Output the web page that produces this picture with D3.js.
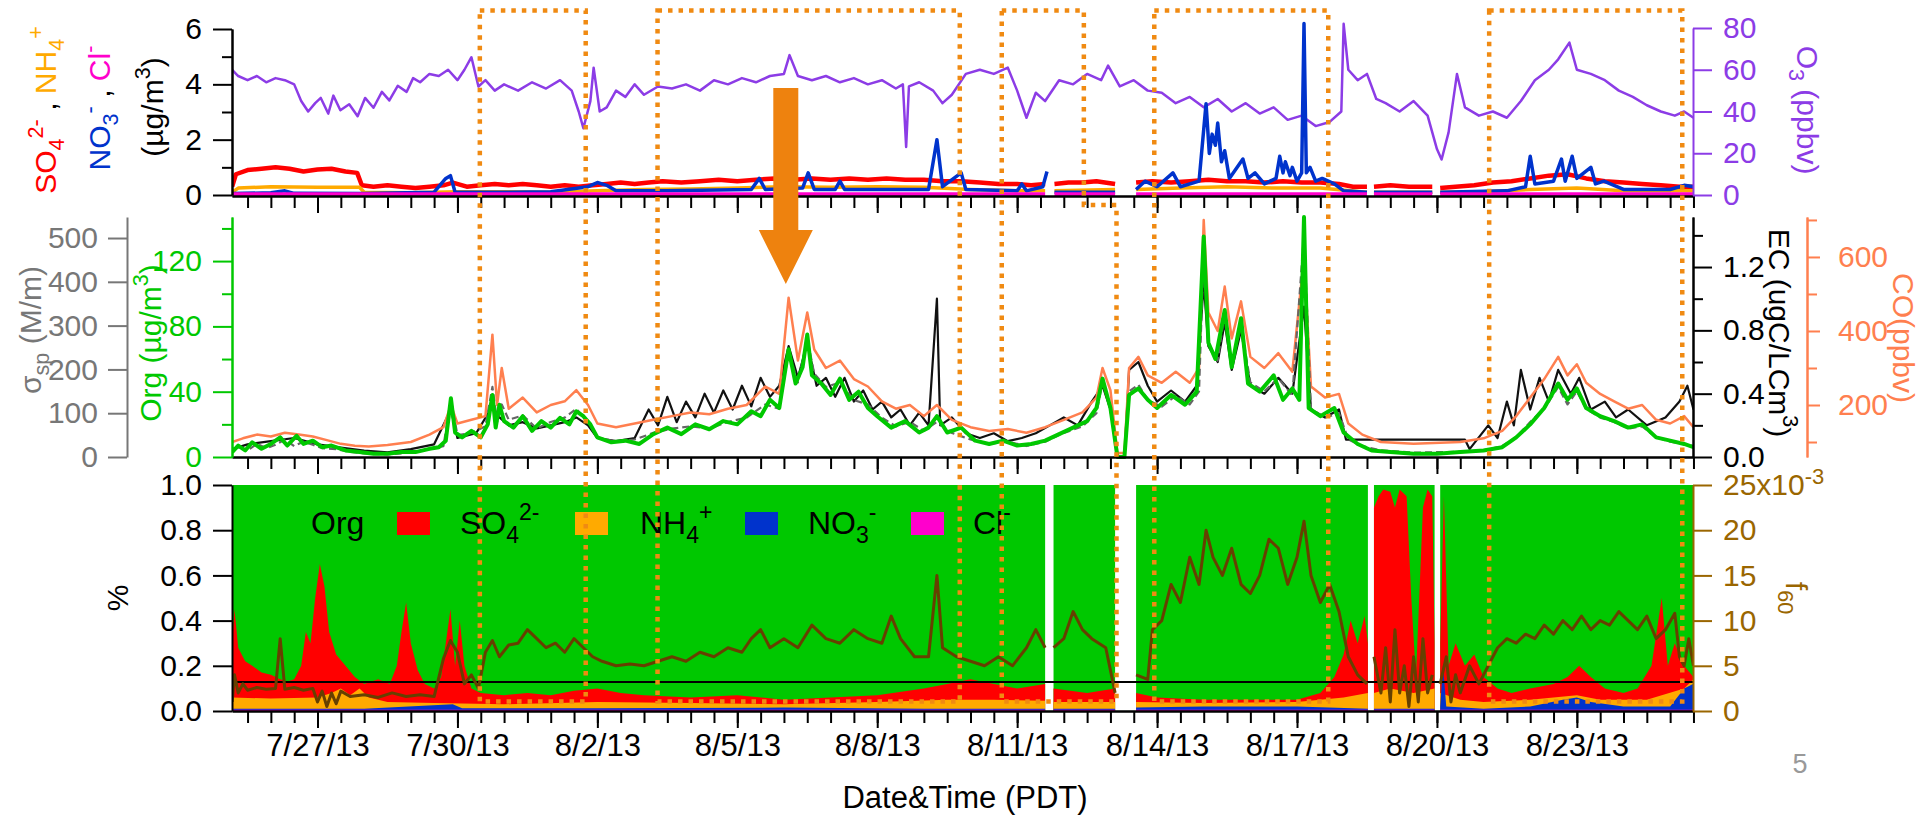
<!DOCTYPE html>
<html><head><meta charset="utf-8">
<script src="https://cdn.jsdelivr.net/npm/d3@7"></script>
<style>
html,body{margin:0;padding:0;background:#fff;}
text{font-family:"Liberation Sans",Arial,Helvetica,sans-serif;}
</style></head>
<body>
<svg id="chart" width="1921" height="817"></svg>
<script>
// ---------- DATA (time = days since 2013-07-25 00:00 PDT) ----------
const tickLabels = ["7/27/13","7/30/13","8/2/13","8/5/13","8/8/13","8/11/13","8/14/13","8/17/13","8/20/13","8/23/13"];

const o3 = [[0.17,60],[0.3,57],[0.5,55],[0.7,57],[0.9,54],[1.1,56],[1.3,55],[1.5,53],[1.65,45],[1.8,40],[1.95,44],[2.07,46.5],[2.23,39],[2.34,47.6],[2.49,40.6],[2.68,43.5],[2.86,37.7],[3.02,46.5],[3.2,41.8],[3.38,49.4],[3.54,45.3],[3.72,52.3],[3.91,49.4],[4.05,56],[4.2,54],[4.4,58],[4.6,57],[4.8,60],[5.0,55],[5.15,60],[5.3,66],[5.45,52],[5.6,55],[5.8,50],[6.0,53],[6.3,50],[6.6,54],[6.9,51],[7.2,55],[7.45,50],[7.6,40],[7.7,32],[7.85,45],[7.92,61],[8.05,40],[8.2,42],[8.4,50],[8.6,47],[8.8,53],[9.0,48],[9.3,52],[9.6,51],[9.9,53],[10.2,50],[10.5,55],[10.8,53],[11.1,56],[11.4,54],[11.7,57],[12.0,58],[12.12,67],[12.3,57],[12.6,55],[12.9,57],[13.2,54],[13.5,56],[13.8,53],[14.1,55],[14.4,51],[14.55,53],[14.62,23],[14.68,52],[14.9,54],[15.2,50],[15.4,44],[15.6,48],[15.9,58],[16.2,60],[16.5,58],[16.8,61],[17.0,50],[17.2,37],[17.4,49],[17.6,45],[17.9,55],[18.2,53],[18.5,58],[18.8,55],[18.95,62],[19.2,52],[19.5,55],[19.8,50],[20.1,49],[20.4,44],[20.7,47],[21.0,42],[21.3,46],[21.6,40],[21.9,44],[22.2,39],[22.5,42],[22.8,36],[23.1,38],[23.4,33],[23.7,35],[23.95,40],[24.0,82],[24.1,60],[24.3,55],[24.5,58],[24.7,46],[24.9,44],[25.2,40],[25.5,45],[25.8,38],[26.0,22],[26.1,17],[26.25,30],[26.43,58],[26.6,42],[26.9,38],[27.2,40],[27.5,37],[27.8,45],[28.1,55],[28.4,60],[28.6,65],[28.84,73],[29.0,60],[29.3,58],[29.6,55],[29.9,50],[30.2,47],[30.5,43],[30.8,40],[31.1,38],[31.3,40],[31.5,37]];

const so4 = [[0.17,0.3],[0.25,0.75],[0.5,0.9],[0.8,0.95],[1.1,1.0],[1.4,0.95],[1.7,0.85],[2.0,0.92],[2.3,0.95],[2.6,0.85],[2.85,0.8],[2.95,0.35],[3.2,0.3],[3.5,0.35],[3.8,0.3],[4.1,0.25],[4.4,0.3],[4.7,0.35],[4.9,0.45],[5.2,0.3],[5.5,0.35],[5.8,0.4],[6.1,0.35],[6.4,0.4],[6.7,0.35],[7.0,0.3],[7.3,0.35],[7.6,0.3],[7.9,0.35],[8.2,0.4],[8.5,0.45],[8.8,0.4],[9.1,0.45],[9.4,0.5],[9.8,0.45],[10.2,0.5],[10.6,0.55],[11.0,0.5],[11.4,0.55],[11.8,0.6],[12.2,0.55],[12.6,0.6],[13.0,0.55],[13.4,0.6],[13.8,0.55],[14.2,0.6],[14.6,0.55],[15.0,0.55],[15.4,0.5],[15.8,0.5],[16.2,0.45],[16.6,0.4],[17.0,0.4],[17.3,0.35],[17.6,0.4],[17.7,null],[17.8,0.4],[18.1,0.45],[18.4,0.45],[18.7,0.5],[19.1,0.4],[19.3,null],[19.55,0.45],[19.9,0.5],[20.3,0.45],[20.7,0.5],[21.1,0.55],[21.5,0.5],[21.9,0.5],[22.3,0.45],[22.7,0.5],[23.1,0.45],[23.5,0.45],[23.9,0.4],[24.2,0.3],[24.5,0.3],[24.58,null],[24.65,0.3],[25.0,0.35],[25.4,0.3],[25.9,0.3],[26.0,null],[26.07,0.25],[26.4,0.3],[26.8,0.35],[27.2,0.45],[27.6,0.5],[28.0,0.6],[28.4,0.7],[28.8,0.75],[29.2,0.6],[29.6,0.5],[30.0,0.45],[30.4,0.4],[30.8,0.35],[31.2,0.3],[31.5,0.3]];

const nh4 = [[0.17,0.1],[0.3,0.25],[1.0,0.3],[2.0,0.28],[2.9,0.28],[3.0,0.1],[4.0,0.08],[5.0,0.12],[6.0,0.12],[7.0,0.1],[8.0,0.15],[9.0,0.2],[10.0,0.22],[11.0,0.25],[12.0,0.3],[13.0,0.28],[14.0,0.3],[15.0,0.28],[16.0,0.2],[17.0,0.15],[17.6,0.15],[17.7,null],[17.8,0.15],[19.1,0.2],[19.3,null],[19.55,0.2],[20.5,0.25],[21.5,0.3],[22.5,0.25],[23.5,0.25],[24.5,0.1],[24.58,null],[24.65,0.1],[25.9,0.1],[26.0,null],[26.07,0.1],[27.0,0.12],[28.0,0.2],[29.0,0.25],[30.0,0.15],[31.5,0.15]];

const no3 = [[0.17,0.05],[1.0,0.08],[1.3,0.15],[1.5,0.06],[3.0,0.05],[4.5,0.1],[4.75,0.6],[4.85,0.7],[4.95,0.1],[6.0,0.1],[7.0,0.12],[7.8,0.3],[8.0,0.45],[8.2,0.35],[8.4,0.15],[9.5,0.15],[11.3,0.2],[11.47,0.6],[11.6,0.2],[12.4,0.25],[12.52,0.8],[12.65,0.2],[13.1,0.2],[13.2,0.5],[13.3,0.2],[15.1,0.2],[15.28,2.0],[15.4,0.3],[15.8,0.8],[15.9,0.2],[17.0,0.15],[17.1,0.4],[17.2,0.15],[17.55,0.3],[17.64,0.85],[17.7,null],[17.8,0.1],[19.1,0.1],[19.3,null],[19.55,0.2],[19.74,0.5],[20.0,0.3],[20.34,0.8],[20.5,0.3],[20.9,0.5],[21.05,3.3],[21.12,1.5],[21.18,2.2],[21.25,1.8],[21.3,2.6],[21.38,1.2],[21.45,1.6],[21.55,0.6],[21.84,1.3],[21.95,0.6],[22.1,0.8],[22.3,0.4],[22.55,0.6],[22.63,1.4],[22.7,0.8],[22.75,1.2],[22.85,0.7],[22.9,1.0],[23.0,0.5],[23.1,0.8],[23.15,6.2],[23.2,0.8],[23.28,1.0],[23.4,0.5],[23.54,0.6],[23.8,0.4],[24.0,0.15],[24.5,0.1],[24.58,null],[24.65,0.1],[25.9,0.1],[26.0,null],[26.07,0.1],[27.5,0.15],[27.9,0.3],[28.0,1.4],[28.1,0.4],[28.5,0.5],[28.67,1.3],[28.75,0.5],[28.9,1.4],[29.0,0.6],[29.3,1.0],[29.4,0.4],[29.58,0.5],[30.0,0.2],[31.0,0.2],[31.3,0.35],[31.5,0.3]];

const cl = [[0.17,0.02],[17.6,0.02],[17.7,null],[17.8,0.02],[19.1,0.02],[19.3,null],[19.55,0.02],[24.5,0.02],[24.58,null],[24.65,0.02],[25.9,0.02],[26.0,null],[26.07,0.02],[31.5,0.02]];

const org = [[0.17,3],[0.3,7],[0.45,4],[0.6,9],[0.8,5],[1.0,8],[1.2,12],[1.35,7],[1.55,13],[1.7,8],[1.9,10],[2.1,6],[2.3,7],[2.6,4],[2.9,3],[3.2,2],[3.5,2],[3.8,3],[4.1,3],[4.4,5],[4.6,6],[4.75,10],[4.86,36],[4.95,15],[5.1,12],[5.3,16],[5.5,12],[5.65,20],[5.75,38],[5.82,18],[5.9,32],[6.0,22],[6.2,18],[6.4,25],[6.6,16],[6.8,22],[7.0,18],[7.2,24],[7.4,20],[7.55,28],[7.7,25],[7.85,20],[8.0,12],[8.3,9],[8.6,10],[8.9,8],[9.2,14],[9.5,18],[9.8,14],[10.1,20],[10.4,17],[10.7,22],[11.0,20],[11.3,28],[11.5,25],[11.7,35],[11.9,30],[12.1,66],[12.25,45],[12.4,55],[12.5,75],[12.6,50],[12.8,45],[13.0,38],[13.2,48],[13.4,35],[13.6,40],[13.8,30],[14.0,25],[14.3,18],[14.6,22],[14.9,15],[15.1,18],[15.28,25],[15.5,15],[15.8,18],[16.1,10],[16.4,8],[16.7,10],[17.0,7],[17.3,8],[17.6,10],[17.9,14],[18.2,18],[18.5,22],[18.7,30],[18.83,48],[19.0,30],[19.15,0],[19.3,0],[19.4,38],[19.6,42],[19.8,35],[20.0,30],[20.3,38],[20.6,32],[20.85,40],[21.0,135],[21.1,70],[21.25,60],[21.45,90],[21.6,55],[21.8,85],[21.95,45],[22.2,40],[22.5,50],[22.7,35],[22.9,42],[23.05,35],[23.15,147],[23.25,30],[23.5,25],[23.8,30],[24.0,15],[24.3,8],[24.6,4],[25.0,3],[25.5,2],[26.0,2],[26.5,3],[27.0,4],[27.4,6],[27.7,12],[28.0,20],[28.3,30],[28.6,45],[28.8,35],[29.0,42],[29.2,30],[29.5,25],[29.8,22],[30.1,18],[30.4,20],[30.7,12],[31.0,10],[31.3,8],[31.5,6]];

const ec = [[0.17,0.05],[0.5,0.08],[1.0,0.1],[1.5,0.12],[2.0,0.08],[2.5,0.06],[3.0,0.04],[3.5,0.03],[4.0,0.05],[4.5,0.08],[4.86,0.3],[5.0,0.12],[5.4,0.15],[5.75,0.32],[5.9,0.25],[6.1,0.2],[6.4,0.22],[6.7,0.18],[7.0,0.2],[7.3,0.22],[7.55,0.25],[7.8,0.2],[8.0,0.12],[8.4,0.1],[8.8,0.12],[9.1,0.3],[9.3,0.2],[9.5,0.38],[9.7,0.22],[9.9,0.35],[10.1,0.25],[10.3,0.4],[10.5,0.28],[10.7,0.42],[10.9,0.3],[11.1,0.45],[11.3,0.32],[11.5,0.5],[11.7,0.38],[11.9,0.45],[12.1,0.7],[12.3,0.5],[12.5,0.72],[12.7,0.45],[12.9,0.5],[13.1,0.38],[13.3,0.5],[13.5,0.35],[13.7,0.42],[13.9,0.3],[14.1,0.35],[14.3,0.25],[14.5,0.3],[14.7,0.2],[14.9,0.28],[15.1,0.2],[15.28,1.0],[15.35,0.2],[15.6,0.25],[15.9,0.15],[16.2,0.12],[16.5,0.15],[16.8,0.1],[17.1,0.12],[17.4,0.15],[17.7,0.2],[18.0,0.25],[18.3,0.2],[18.6,0.35],[18.83,0.45],[19.0,0.3],[19.15,0.0],[19.3,0.0],[19.4,0.55],[19.6,0.6],[19.8,0.45],[20.0,0.35],[20.3,0.42],[20.6,0.35],[20.85,0.45],[21.0,1.1],[21.1,0.7],[21.3,0.6],[21.45,0.85],[21.6,0.55],[21.8,0.8],[22.0,0.45],[22.3,0.4],[22.6,0.5],[22.9,0.4],[23.15,0.95],[23.3,0.3],[23.6,0.25],[23.9,0.3],[24.05,0.11],[26.6,0.11],[26.7,0.05],[27.1,0.2],[27.3,0.12],[27.5,0.35],[27.65,0.2],[27.8,0.55],[28.0,0.3],[28.2,0.5],[28.4,0.35],[28.6,0.55],[28.87,0.4],[29.05,0.5],[29.3,0.3],[29.6,0.35],[29.84,0.25],[30.1,0.3],[30.5,0.2],[30.9,0.25],[31.2,0.35],[31.37,0.45],[31.5,0.3]];

const sigmaSp = [[0.17,10],[0.3,25],[0.5,15],[0.7,30],[0.9,20],[1.1,28],[1.3,40],[1.5,25],[1.7,35],[1.9,28],[2.1,20],[2.4,18],[2.7,12],[3.0,8],[3.5,6],[4.0,10],[4.4,18],[4.7,25],[4.86,130],[5.0,50],[5.3,55],[5.6,70],[5.75,160],[5.85,80],[5.95,120],[6.1,85],[6.4,95],[6.7,65],[7.0,80],[7.3,90],[7.55,110],[7.8,80],[8.0,45],[8.4,35],[8.8,40],[9.2,55],[9.6,65],[10.0,70],[10.4,65],[10.8,80],[11.2,90],[11.6,120],[11.9,110],[12.1,240],[12.3,170],[12.5,270],[12.65,190],[12.9,160],[13.2,170],[13.5,130],[13.8,120],[14.1,90],[14.4,70],[14.7,80],[15.0,60],[15.28,80],[15.6,55],[16.0,40],[16.4,30],[16.8,35],[17.2,25],[17.6,35],[18.0,55],[18.4,70],[18.7,100],[18.83,170],[19.0,110],[19.15,0],[19.3,0],[19.4,150],[19.6,165],[19.8,130],[20.1,115],[20.4,140],[20.7,120],[20.9,150],[21.0,480],[21.1,260],[21.3,220],[21.45,330],[21.6,210],[21.8,300],[22.0,170],[22.3,150],[22.6,180],[22.9,140],[23.15,510],[23.3,110],[23.6,90],[23.9,100],[24.1,40],[24.4,25],[24.8,15],[25.5,10],[26.5,12],[27.0,15],[27.4,25],[27.7,45],[28.0,80],[28.3,110],[28.6,160],[28.8,120],[29.0,150],[29.2,110],[29.5,90],[29.8,80],[30.1,65],[30.4,70],[30.7,45],[31.0,35],[31.3,30],[31.5,25]];

const co = [[0.17,100],[0.4,110],[0.7,120],[1.0,115],[1.3,125],[1.6,120],[1.9,115],[2.2,105],[2.5,95],[2.8,90],[3.1,88],[3.5,92],[4.0,100],[4.4,120],[4.7,140],[4.86,200],[5.0,150],[5.3,160],[5.6,170],[5.75,390],[5.85,200],[5.95,300],[6.1,190],[6.4,220],[6.7,180],[7.0,200],[7.3,210],[7.55,240],[7.8,200],[8.0,150],[8.4,140],[8.8,150],[9.2,160],[9.6,170],[10.0,180],[10.4,175],[10.8,190],[11.2,200],[11.6,250],[11.9,230],[12.1,490],[12.3,320],[12.5,450],[12.65,350],[12.9,300],[13.2,320],[13.5,270],[13.8,250],[14.1,210],[14.4,190],[14.7,200],[15.0,170],[15.28,200],[15.6,160],[16.0,140],[16.4,130],[16.8,135],[17.2,125],[17.6,140],[18.0,160],[18.4,180],[18.7,220],[18.83,300],[19.0,240],[19.15,70],[19.3,70],[19.4,300],[19.6,330],[19.8,280],[20.1,260],[20.4,290],[20.7,260],[20.9,300],[21.0,700],[21.1,450],[21.3,400],[21.45,520],[21.6,380],[21.8,480],[22.0,330],[22.3,300],[22.6,340],[22.9,290],[23.15,600],[23.3,250],[23.6,220],[23.9,230],[24.1,150],[24.4,120],[24.8,100],[25.5,95],[26.5,100],[27.0,110],[27.4,130],[27.7,170],[28.0,220],[28.3,270],[28.6,330],[28.8,280],[29.0,310],[29.2,260],[29.5,230],[29.8,210],[30.1,190],[30.4,200],[30.7,160],[31.0,150],[31.3,170],[31.5,140]];

// bottom panel: cumulative fractions (top of SO4 layer = all inorganic; top of NH4 layer; top of NO3 layer)
const inorgFrac = [[0.17,0.3],[0.22,0.45],[0.3,0.28],[0.45,0.22],[0.6,0.2],[0.8,0.17],[1.0,0.16],[1.2,0.14],[1.35,0.13],[1.5,0.14],[1.65,0.2],[1.75,0.35],[1.85,0.3],[1.95,0.5],[2.05,0.65],[2.15,0.55],[2.25,0.35],[2.4,0.25],[2.6,0.2],[2.8,0.15],[3.0,0.12],[3.3,0.14],[3.55,0.12],[3.7,0.2],[3.8,0.35],[3.9,0.48],[4.0,0.3],[4.15,0.18],[4.3,0.12],[4.5,0.1],[4.65,0.15],[4.75,0.3],[4.85,0.45],[4.95,0.2],[5.05,0.4],[5.15,0.2],[5.3,0.1],[5.5,0.08],[6,0.07],[6.5,0.08],[7,0.07],[7.5,0.09],[8,0.1],[8.5,0.08],[9,0.07],[10,0.06],[11,0.07],[12,0.05],[13,0.06],[14,0.07],[15,0.1],[15.5,0.12],[16,0.14],[16.5,0.12],[17,0.1],[17.6,0.12],[17.65,null],[17.78,0.1],[18.5,0.08],[19.1,0.1],[19.3,null],[19.55,0.08],[20,0.06],[21,0.05],[22,0.05],[23,0.05],[23.5,0.08],[23.8,0.15],[24.0,0.25],[24.15,0.4],[24.3,0.3],[24.45,0.42],[24.52,0.3],[24.58,null],[24.65,0.9],[24.75,0.95],[24.85,0.98],[25.0,0.97],[25.1,0.9],[25.2,0.98],[25.35,0.95],[25.45,0.5],[25.55,0.15],[25.7,0.9],[25.8,0.98],[25.9,0.95],[25.95,0.3],[26.0,null],[26.07,0.3],[26.15,0.95],[26.25,0.2],[26.4,0.3],[26.6,0.2],[26.8,0.25],[27.0,0.15],[27.3,0.1],[27.6,0.08],[28.0,0.1],[28.5,0.12],[28.8,0.15],[29.05,0.2],[29.3,0.15],[29.6,0.1],[30.0,0.08],[30.3,0.1],[30.6,0.2],[30.82,0.5],[30.95,0.2],[31.1,0.3],[31.3,0.2],[31.5,0.15]];

const nh4no3Frac = [[0.17,0.06],[1,0.055],[2,0.06],[2.3,0.08],[2.5,0.1],[2.7,0.07],[2.9,0.1],[3.1,0.06],[3.5,0.04],[4.5,0.035],[6,0.03],[8,0.04],[10,0.035],[12,0.03],[14,0.04],[15.5,0.05],[16.5,0.05],[17.6,0.045],[17.65,null],[17.78,0.04],[19.1,0.04],[19.3,null],[19.55,0.04],[21,0.035],[23,0.04],[24.0,0.06],[24.52,0.08],[24.58,null],[24.65,0.08],[25.0,0.1],[25.5,0.08],[25.95,0.1],[26.0,null],[26.07,0.08],[26.5,0.05],[27,0.04],[28,0.05],[29,0.07],[29.5,0.05],[30.5,0.05],[31.3,0.1],[31.5,0.14]];

const no3Frac = [[0.17,0.01],[3,0.01],[4.9,0.03],[5.1,0.012],[8,0.012],[12,0.015],[15,0.01],[17.6,0.01],[17.65,null],[17.78,0.01],[19.1,0.01],[19.3,null],[19.55,0.015],[21,0.02],[23,0.02],[24.52,0.01],[24.58,null],[24.65,0.01],[25.95,0.01],[26.0,null],[26.07,0.02],[26.13,0.2],[26.2,0.02],[27,0.01],[28,0.02],[28.7,0.05],[29.0,0.06],[29.3,0.04],[30,0.02],[31.0,0.02],[31.3,0.1],[31.5,0.12]];

const clFrac = [[0.17,0.005],[17.6,0.005],[17.65,null],[17.78,0.005],[19.1,0.005],[19.3,null],[19.55,0.005],[24.52,0.005],[24.58,null],[24.65,0.005],[25.95,0.005],[26.0,null],[26.07,0.005],[31.5,0.005]];

const f60 = [[0.17,1],[0.22,4],[0.3,2],[0.4,3],[0.5,2.3],[0.7,2.6],[0.9,2.4],[1.1,2.5],[1.2,8],[1.3,2.4],[1.5,2.6],[1.7,2.3],[1.9,2.5],[2.0,1],[2.1,2.2],[2.2,0.5],[2.3,2],[2.4,0.8],[2.5,2.2],[2.7,1.6],[3.0,1.8],[3.3,1.5],[3.6,2],[3.9,1.6],[4.2,1.8],[4.5,1.6],[4.7,5.8],[4.85,7.8],[5.0,6.5],[5.15,3],[5.3,4],[5.45,2.5],[5.6,6.5],[5.75,7.8],[5.9,6],[6.1,7.3],[6.3,7.5],[6.5,9],[6.7,8],[6.9,7],[7.1,7.5],[7.3,6.5],[7.5,8],[7.7,7],[7.9,6],[8.1,5.5],[8.4,5],[8.7,5.2],[9.0,5],[9.3,5.5],[9.6,6],[9.9,5.5],[10.2,6.5],[10.5,6],[10.8,7],[11.1,6.5],[11.3,8],[11.5,9],[11.7,7],[12.0,8],[12.3,7],[12.6,9.5],[12.9,8],[13.2,7.5],[13.5,9],[13.8,8],[14.1,7.5],[14.3,10.5],[14.5,8],[14.8,6],[15.1,6],[15.28,15],[15.4,7],[15.7,6],[16.0,5.5],[16.3,5],[16.6,6],[16.9,5],[17.2,7],[17.4,9],[17.6,7],[17.65,null],[17.78,7],[18.0,8],[18.2,11],[18.4,9],[18.6,8],[18.9,7],[19.1,2],[19.3,null],[19.55,4],[19.8,3.5],[19.9,9],[20.1,10],[20.3,14],[20.5,12],[20.7,17],[20.9,14],[21.05,20],[21.2,17],[21.4,15],[21.6,18],[21.8,14],[22.0,13],[22.2,15],[22.4,19],[22.6,18],[22.8,14],[23.0,17],[23.15,21],[23.3,15],[23.5,12],[23.7,14],[23.9,11],[24.1,6],[24.3,4],[24.5,3],[24.58,null],[24.65,6],[24.8,2],[24.9,7],[25.0,1],[25.1,9],[25.2,2],[25.3,5],[25.4,0.5],[25.5,6],[25.6,1],[25.7,8],[25.8,2],[25.9,4],[26.0,null],[26.07,3],[26.2,6],[26.3,1],[26.4,4],[26.5,2],[26.7,5],[26.9,3],[27.1,5],[27.3,7],[27.5,8],[27.7,7.5],[27.9,8.5],[28.1,8],[28.3,9.5],[28.5,8.5],[28.7,10],[28.9,9],[29.1,10.5],[29.3,9],[29.5,10],[29.7,9.5],[29.9,11],[30.1,10],[30.3,9],[30.5,10.5],[30.7,8],[30.9,9],[31.1,10.8],[31.2,6],[31.3,5],[31.4,8],[31.5,5]];

const refFraction = 0.128;
// highlighted periods (dotted boxes), days since 7/25: [start, end in top panel, end in lower panels]
const boxPeriods = [[5.48,7.75,7.75],[9.29,15.77,15.77],[16.67,18.43,19.13],[19.94,23.67,23.67],[27.12,31.26,31.26]];
const arrowDay = 12.04;

// ---------- SETUP ----------
const T0 = Date.UTC(2013,6,25);
const T = d => new Date(T0 + d*864e5);
const svg = d3.select("#chart");
const FS = 30;
const C = {purple:"#8C3CE6", red:"#FF0000", orange:"#FFAA00", blue:"#0033CC", magenta:"#FF00CC",
  green:"#00C800", gray:"#777777", coral:"#FF7F4F", brownAx:"#9A6600", brown:"#664000", dot:"#F08A12", arrow:"#EE820E"};

const X0 = 232, X1 = 1693;
const x = d3.scaleUtc().domain([T(0.1667), T(31.49)]).range([X0, X1]);

const yTop = d3.scaleLinear().domain([0,6]).range([195,29]);
const yO3 = d3.scaleLinear().domain([0,80]).range([195,28]);
const ySig = d3.scaleLinear().domain([0,548]).range([457,217]);
const yOrg = d3.scaleLinear().domain([0,147]).range([457,217]);
const yEC = d3.scaleLinear().domain([0,1.516]).range([457,217]);
const yCO = d3.scaleLinear().domain([59.5,708]).range([457,217]);
const yFrac = d3.scaleLinear().domain([0,1]).range([711,485]);
const yF60 = d3.scaleLinear().domain([0,25]).range([711,485]);

const defs = svg.append("defs");
function clip(id, y0, y1){ defs.append("clipPath").attr("id",id).append("rect").attr("x",X0).attr("y",y0).attr("width",X1-X0).attr("height",y1-y0); }
clip("cTop", 0, 197); clip("cMid", 210, 459); clip("cBot", 485, 711);

function lineOf(y){ return d3.line().defined(d=>d[1]!=null).x(d=>x(T(d[0]))).y(d=>y(d[1])); }
function drawLine(g, data, y, color, w, dash){
  const p = g.append("path").datum(data).attr("d", lineOf(y)).attr("fill","none")
    .attr("stroke",color).attr("stroke-width",w).attr("stroke-linejoin","round").attr("stroke-linecap","butt");
  if(dash) p.attr("stroke-dasharray",dash);
  return p;
}
function drawArea(g, data, y, color, top){
  const a = d3.area().defined(d=>d[1]!=null).x(d=>x(T(d[0]))).y0(y(0)).y1(d=> top!=null ? y(top) : y(d[1]));
  g.append("path").datum(data).attr("d",a).attr("fill",color).attr("stroke","none");
}
function styleAxis(g, color){
  g.selectAll("path.domain").attr("stroke",color).attr("stroke-width",2);
  g.selectAll(".tick line").attr("stroke",color).attr("stroke-width",2);
  g.selectAll(".tick text").attr("fill",color).style("font-size",FS+"px").style("font-family","'Liberation Sans',Arial,sans-serif");
}
function rich(parent, px, py, rot, parts, size, anchor){
  const t = parent.append("text").attr("transform",`translate(${px},${py}) rotate(${rot})`)
    .attr("text-anchor", anchor||"middle").style("font-size", size+"px");
  let cur = 0;
  parts.forEach(p=>{
    const s = p[2]==="sup" ? -0.45*size : p[2]==="sub" ? 0.28*size : 0;
    const fs = p[2] ? size*0.72 : size;
    t.append("tspan").attr("dy", s-cur).attr("fill", p[1]).style("font-size", fs+"px").text(p[0]);
    cur = s;
  });
  return t;
}

// ---------- TOP PANEL ----------
const gTop = svg.append("g").attr("clip-path","url(#cTop)");
drawLine(gTop, o3, yO3, C.purple, 2.5);
drawLine(gTop, so4, yTop, C.red, 4.5);
drawLine(gTop, nh4, yTop, C.orange, 3.5);
drawLine(gTop, no3, yTop, C.blue, 3.5);
drawLine(gTop, cl, yTop, C.magenta, 4.5);

// ---------- MIDDLE PANEL ----------
const gMid = svg.append("g").attr("clip-path","url(#cMid)");
drawLine(gMid, ec, yEC, "#111", 2.2);
drawLine(gMid, co, yCO, C.coral, 2.5);
drawLine(gMid, sigmaSp, ySig, "#666", 2.2, "7,4");
drawLine(gMid, org, yOrg, C.green, 4);

// ---------- BOTTOM PANEL ----------
const gBot = svg.append("g").attr("clip-path","url(#cBot)");
drawArea(gBot, inorgFrac, yFrac, C.green, 1);
drawArea(gBot, inorgFrac, yFrac, C.red);
drawArea(gBot, nh4no3Frac, yFrac, C.orange);
drawArea(gBot, no3Frac, yFrac, C.blue);
drawArea(gBot, clFrac, yFrac, C.magenta);
gBot.append("line").attr("x1",X0).attr("x2",X1).attr("y1",yFrac(refFraction)).attr("y2",yFrac(refFraction))
  .attr("stroke","#000").attr("stroke-width",2);
drawLine(gBot, f60, yF60, C.brown, 3);

// ---------- X AXES ----------
const parseTick = d3.utcParse("%m/%d/%y");
const majorDates = tickLabels.map(s=>parseTick(s));
const minorDates = d3.utcHour.every(12).range(T(0.1667), T(31.51));
[[196,false],[457,false],[711,true]].forEach(([yy,lab])=>{
  const gm = svg.append("g").attr("transform",`translate(0,${yy})`)
    .call(d3.axisBottom(x).tickValues(minorDates).tickSize(12).tickSizeOuter(0).tickFormat(""));
  styleAxis(gm,"#000");
  const gM = svg.append("g").attr("transform",`translate(0,${yy})`)
    .call(d3.axisBottom(x).tickValues(majorDates).tickSize(17).tickSizeOuter(0).tickPadding(6)
      .tickFormat(lab ? ((d,i)=>tickLabels[i]) : ""));
  styleAxis(gM,"#000");
  gM.selectAll(".tick text").style("font-size","31px");
});

// ---------- Y AXES ----------
function yAxis(scale, xpos, side, major, minor, color, fmt, pad){
  const mk = side==="left" ? d3.axisLeft : d3.axisRight;
  if(minor){
    const gm = svg.append("g").attr("transform",`translate(${xpos},0)`).call(mk(scale).tickValues(minor).tickSize(10).tickSizeOuter(0).tickFormat(""));
    styleAxis(gm,color);
  }
  const g = svg.append("g").attr("transform",`translate(${xpos},0)`)
    .call(mk(scale).tickValues(major).tickSize(19).tickSizeOuter(0).tickPadding(pad||11).tickFormat(fmt||d3.format("d")));
  styleAxis(g,color);
  return g;
}
yAxis(yTop, X0, "left", [0,2,4,6], [1,3,5], "#000");
yAxis(yO3, X1, "right", [0,20,40,60,80], null, C.purple);
yAxis(ySig, 127, "left", [0,100,200,300,400,500], null, C.gray, null, 10);
yAxis(yOrg, X0, "left", [0,40,80,120], [20,60,100,140], C.green);
yAxis(yEC, X1, "right", [0,0.4,0.8,1.2], [0.2,0.6,1.0,1.4], "#000", d3.format(".1f"));
const gCO = svg.append("g").attr("transform","translate(1807,0)");
gCO.call(d3.axisRight(yCO).tickValues([100,300,500,700]).tickSize(10).tickSizeOuter(0).tickFormat(""));
styleAxis(gCO, C.coral);
const gCO2 = svg.append("g").attr("transform","translate(1807,0)");
gCO2.call(d3.axisRight(yCO).tickValues([200,400,600]).tickSize(13).tickSizeOuter(0).tickPadding(18).tickFormat(d3.format("d")));
styleAxis(gCO2, C.coral);
yAxis(yFrac, X0, "left", [0,0.2,0.4,0.6,0.8,1.0], null, "#000", d3.format(".1f"));
const gF = yAxis(yF60, X1, "right", [0,5,10,15,20,25], null, C.brownAx);
gF.selectAll(".tick text").filter(d=>d===25).each(function(){
  const t = d3.select(this); t.text("25x10");
  t.append("tspan").attr("dy","-0.5em").style("font-size","22px").text("-3");
});

// ---------- AXIS TITLES ----------
const K = "#000";
rich(svg, 56, 110, -90, [["SO",C.red],["4",C.red,"sub"],["2-",C.red,"sup"],[" , ",K],["NH",C.orange],["4",C.orange,"sub"],["+",C.orange,"sup"]], FS);
rich(svg, 110, 108, -90, [["NO",C.blue],["3",C.blue,"sub"],["-",C.blue,"sup"],[" , ",K],["Cl",C.magenta],["-",C.magenta,"sup"]], FS);
rich(svg, 163, 107, -90, [["(µg/m",K],["3",K,"sup"],[")",K]], FS);
rich(svg, 1797, 110, 90, [["O",C.purple],["3",C.purple,"sub"],[" (ppbv)",C.purple]], FS);
rich(svg, 41, 330, -90, [["σ",C.gray],["sp",C.gray,"sub"],[" (M/m)",C.gray]], FS);
rich(svg, 161, 343, -90, [["Org (µg/m",C.green],["3",C.green,"sup"],[")",C.green]], FS);
rich(svg, 1769, 333, 90, [["EC (ugC/LCm",K],["3",K,"sup"],[")",K]], FS);
rich(svg, 1893, 338, 90, [["CO(ppbv)",C.coral]], FS);
rich(svg, 128, 598, -90, [["%",K]], FS);
rich(svg, 1786, 598, 90, [["f",C.brownAx],["60",C.brownAx,"sub"]], FS);
svg.append("text").attr("x",965).attr("y",808).attr("text-anchor","middle").style("font-size","31px").text("Date&Time (PDT)");
svg.append("text").attr("x",1800).attr("y",773).attr("text-anchor","middle").attr("fill","#999").style("font-size","27px").text("5");

// ---------- LEGEND ----------
const legend = [
  {label:[["Org",K]], color:null, sx:null, tx:311},
  {label:[["SO",K],["4",K,"sub"],["2-",K,"sup"]], color:C.red, sx:397, tx:460},
  {label:[["NH",K],["4",K,"sub"],["+",K,"sup"]], color:C.orange, sx:575, tx:640},
  {label:[["NO",K],["3",K,"sub"],["-",K,"sup"]], color:C.blue, sx:745, tx:808},
  {label:[["Cl",K],["-",K,"sup"]], color:C.magenta, sx:911, tx:973}
];
legend.forEach(L=>{
  if(L.color) svg.append("rect").attr("x",L.sx).attr("y",512).attr("width",33).attr("height",23).attr("fill",L.color);
  rich(svg, L.tx, 534, 0, L.label, 32, "start");
});

// ---------- ANNOTATIONS ----------
const gAnn = svg.append("g");
const BT = 10.5, BB = 701.5, KINK = 205;
boxPeriods.forEach(([a,b,c])=>{
  const xa = x(T(a)), xb = x(T(b)), xc = x(T(c));
  const pts = xb===xc ? [[xa,BT],[xb,BT],[xb,BB],[xa,BB]] : [[xa,BT],[xb,BT],[xb,KINK],[xc,KINK],[xc,BB],[xa,BB]];
  gAnn.append("path").attr("d","M"+pts.map(p=>p.join(",")).join("L")+"Z")
    .attr("fill","none").attr("stroke",C.dot).attr("stroke-width",4.5).attr("stroke-dasharray","4.5,6");
});
const ax = x(T(arrowDay));
gAnn.append("rect").attr("x",ax-12.5).attr("y",88).attr("width",25).attr("height",143).attr("fill",C.arrow);
gAnn.append("path").attr("d",`M${ax-27},230 L${ax+27},230 L${ax},284 Z`).attr("fill",C.arrow);
</script></body></html>
